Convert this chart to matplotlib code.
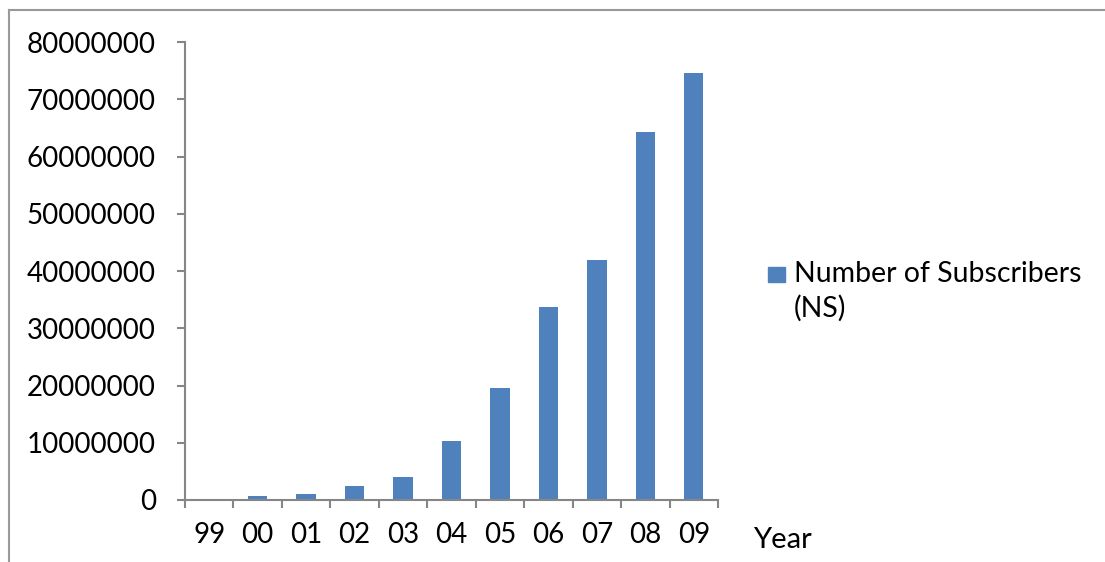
import matplotlib
matplotlib.use('Agg')
import numpy as np
import matplotlib.pyplot as plt
from matplotlib.lines import Line2D
from matplotlib.patches import Rectangle

years = ['99', '00', '01', '02', '03', '04', '05', '06', '07', '08', '09']
subscribers = [0, 650000, 1000000, 2400000, 4100000, 10300000,
               19560000, 33660000, 41970000, 64300000, 74500000]
yticks = [0, 10000000, 20000000, 30000000, 40000000, 50000000,
          60000000, 70000000, 80000000]

plt.rcParams['font.family'] = ['Lato', 'DejaVu Sans']
bar_color = '#4F81BD'
axis_color = '#868686'

fig = plt.figure(figsize=(11.05, 5.62), dpi=100)
ax = fig.add_axes([185/1105, 1-500/562, (718-185)/1105, (500-42)/562])

x = np.arange(len(years))
ax.bar(x, subscribers, width=0.4, color=bar_color, zorder=2)

ax.set_xlim(-0.5, len(years) - 0.5)
ax.set_ylim(0, 80000000)
ax.set_yticks(yticks)
ax.set_yticklabels([str(v) for v in yticks], fontsize=20)
ax.set_xticks(x)
ax.set_xticklabels(years, fontsize=20)
ax.set_xticks(np.arange(len(years) + 1) - 0.5, minor=True)

ax.tick_params(axis='x', which='major', length=0, pad=16)
ax.tick_params(axis='x', which='minor', length=6, width=1.5, color=axis_color, direction='out')
ax.tick_params(axis='y', length=6, width=1.5, color=axis_color, pad=15)

for s in ['top', 'right']:
    ax.spines[s].set_visible(False)
for s in ['left', 'bottom']:
    ax.spines[s].set_color(axis_color)
    ax.spines[s].set_linewidth(1.5)

fig.text(782/1105, 1-540/562, 'Year', fontsize=21, ha='center', va='center')

# legend drawn by hand
fig.patches.append(Rectangle((768/1105, 1-282/562), 17/1105, 15/562,
                             transform=fig.transFigure, color=bar_color))
fig.text(794/1105, 1-274/562, 'Number of Subscribers', fontsize=20.5, va='center')
fig.text(794/1105, 1-308/562, '(NS)', fontsize=20.5, va='center')

# outer chart frame (only left and top edges visible)
fig.add_artist(Line2D([8.5/1105, 8.5/1105], [0, 1-10/562], transform=fig.transFigure,
                      color='#999999', lw=1.5))
fig.add_artist(Line2D([8.5/1105, 1], [1-10/562, 1-10/562], transform=fig.transFigure,
                      color='#999999', lw=1.5))

fig.savefig('out.png', dpi=100)
